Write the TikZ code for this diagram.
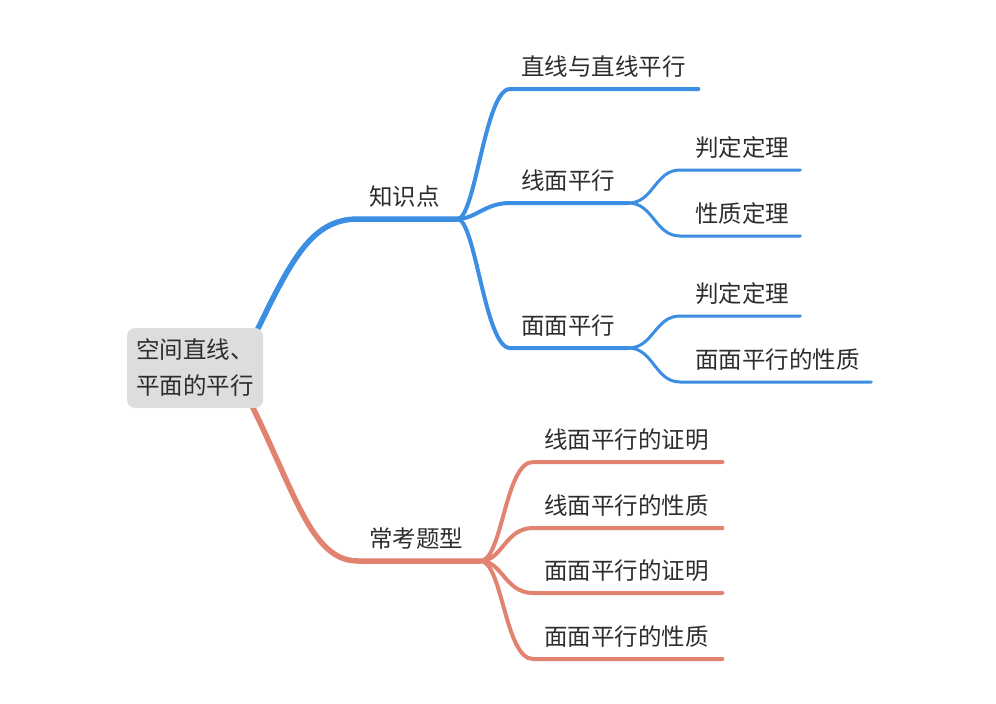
\documentclass[tikz,border=0pt]{standalone}
\usepackage{fontspec}
\setmainfont{Noto Sans CJK SC}
\usetikzlibrary{calc,backgrounds}
\definecolor{kpblue}{RGB}{59,142,226}
\definecolor{tired}{RGB}{226,130,112}
\definecolor{rootgray}{RGB}{221,221,221}
\definecolor{txtgray}{RGB}{45,45,45}

\begin{document}
\begin{tikzpicture}[
    x=1pt, y=-1pt,
    every node/.style={font=\fontsize{23.5}{36}\selectfont, text=txtgray},
    root/.style={
        rectangle, fill=rootgray, rounded corners=8pt,
        minimum width=136pt, minimum height=80pt,
        align=left, inner sep=0pt
    },
    topic/.style={anchor=south west, align=left, inner xsep=11pt, inner ysep=13.5pt, text depth=0pt},
    subtopic/.style={topic, inner xsep=15pt},
    trunk/.style={line width=5.5pt, line cap=round},
    limb/.style={line width=4pt, line cap=round},
    twig/.style={line width=3pt, line cap=round}
]
\useasboundingbox (0,0) rectangle (996,704);

% Root
\node[root] (root) at (195,368) {空间直线、\\平面的平行};

% Branch 1: 知识点
\node[topic, text width=77pt] (zsd) at (358,219) {知识点};
\node[topic, text width=166pt] (zxzx) at (510,89) {直线与直线平行};
\node[topic, text width=96pt] (xmpx) at (510,203) {线面平行};
\node[topic, text width=96pt] (mmpx) at (510,348) {面面平行};
\node[subtopic, text width=90pt] (xmpd) at (680,170) {判定定理};
\node[subtopic, text width=90pt] (xmxz) at (680,236) {性质定理};
\node[subtopic, text width=90pt] (mmpd) at (680,316) {判定定理};
\node[subtopic, text width=161pt] (mmxz) at (680,382) {面面平行的性质};

% Branch 2: 常考题型
\node[topic, text width=100pt] (ckt) at (358,561) {常考题型};
\node[topic, text width=167pt] (t1) at (533,462) {线面平行的证明};
\node[topic, text width=167pt] (t2) at (533,528) {线面平行的性质};
\node[topic, text width=167pt] (t3) at (533,593) {面面平行的证明};
\node[topic, text width=167pt] (t4) at (533,659) {面面平行的性质};

% Connectors
\begin{scope}[on background layer]
\draw[trunk, kpblue] ($(root.north east)+(-13,17)$) .. controls (290,262) and (310,219) .. (zsd.south west) -- (zsd.south east);
\draw[limb, kpblue] (zsd.south east) .. controls +(18,0) and +(-25,0) .. (zxzx.south west) -- (zxzx.south east);
\draw[limb, kpblue] (zsd.south east) .. controls +(18,0) and +(-25,0) .. (xmpx.south west) -- (xmpx.south east);
\draw[limb, kpblue] (zsd.south east) .. controls +(18,0) and +(-25,0) .. (mmpx.south west) -- (mmpx.south east);
\draw[twig, kpblue] (xmpx.south east) .. controls +(25,0) and +(-25,0) .. (xmpd.south west) -- (xmpd.south east);
\draw[twig, kpblue] (xmpx.south east) .. controls +(25,0) and +(-25,0) .. (xmxz.south west) -- (xmxz.south east);
\draw[twig, kpblue] (mmpx.south east) .. controls +(25,0) and +(-25,0) .. (mmpd.south west) -- (mmpd.south east);
\draw[twig, kpblue] (mmpx.south east) .. controls +(25,0) and +(-25,0) .. (mmxz.south west) -- (mmxz.south east);

\draw[trunk, tired] ($(root.south east)+(-18,-16)$) .. controls (295,490) and (310,561) .. (ckt.south west) -- (ckt.south east);
\foreach \t in {t1,t2,t3,t4}
    \draw[limb, tired] (ckt.south east) .. controls +(22,0) and +(-28,0) .. (\t.south west) -- (\t.south east);
\end{scope}

\end{tikzpicture}
\end{document}
